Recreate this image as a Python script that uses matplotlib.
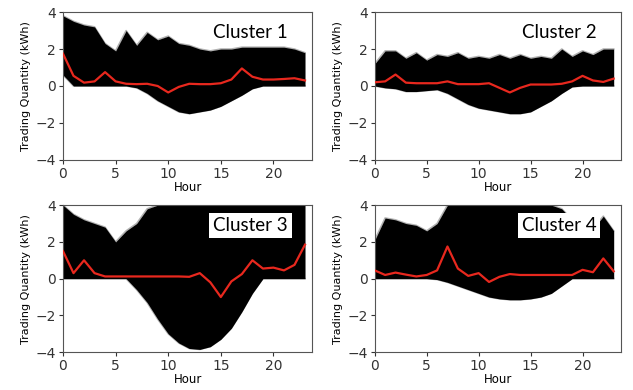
import matplotlib
matplotlib.use("Agg")
import matplotlib.pyplot as plt
import numpy as np

hours = list(range(24))

# centroid (red) profiles
centroid_1 = [1.75, 0.55, 0.18, 0.25, 0.75, 0.25, 0.12, 0.1, 0.12, 0.0, -0.35, -0.05,
              0.12, 0.1, 0.1, 0.15, 0.35, 0.95, 0.5, 0.35, 0.35, 0.38, 0.42, 0.3]
centroid_2 = [0.2, 0.25, 0.62, 0.18, 0.15, 0.15, 0.15, 0.25, 0.1, 0.1, 0.1, 0.15,
              -0.1, -0.35, -0.1, 0.08, 0.08, 0.08, 0.12, 0.25, 0.55, 0.3, 0.22, 0.4]
centroid_3 = [1.5, 0.3, 1.0, 0.3, 0.12, 0.12, 0.12, 0.12, 0.12, 0.12, 0.12, 0.12,
              0.1, 0.3, -0.2, -1.0, -0.15, 0.25, 1.0, 0.55, 0.6, 0.45, 0.75, 1.85]
centroid_4 = [0.45, 0.2, 0.33, 0.22, 0.12, 0.2, 0.45, 1.75, 0.55, 0.15, 0.3, -0.18,
              0.1, 0.25, 0.2, 0.2, 0.2, 0.2, 0.2, 0.2, 0.48, 0.35, 1.1, 0.4]

# envelope of the member profiles (black mass)
upper_1 = [3.8, 3.5, 3.3, 3.2, 2.3, 1.9, 3.0, 2.2, 2.9, 2.5, 2.7, 2.3,
           2.2, 2.0, 1.9, 2.0, 2.0, 2.1, 2.1, 2.1, 2.1, 2.1, 2.0, 1.8]
lower_1 = [0.6, 0.0, 0.0, 0.0, 0.0, 0.0, 0.0, -0.1, -0.4, -0.8, -1.1, -1.4,
           -1.5, -1.4, -1.3, -1.1, -0.8, -0.5, -0.15, 0.0, 0.0, 0.0, 0.0, 0.0]
upper_2 = [1.2, 1.9, 1.9, 1.5, 1.8, 1.4, 1.7, 1.6, 1.8, 1.5, 1.6, 1.5,
           1.7, 1.5, 1.7, 1.5, 1.6, 1.5, 2.0, 1.6, 1.9, 1.7, 2.0, 2.0]
lower_2 = [0.0, -0.1, -0.15, -0.3, -0.3, -0.25, -0.2, -0.4, -0.7, -1.0, -1.2, -1.3,
           -1.4, -1.5, -1.5, -1.4, -1.1, -0.8, -0.4, -0.05, 0.0, 0.0, 0.0, 0.0]
upper_3 = [4.0, 3.5, 3.2, 3.0, 2.8, 2.0, 2.6, 3.0, 3.8, 4.0, 4.0, 4.0,
           4.0, 4.0, 4.0, 4.0, 4.0, 4.0, 4.0, 4.0, 4.0, 4.0, 4.0, 4.0]
lower_3 = [0.0, 0.0, 0.0, 0.0, 0.0, 0.0, 0.0, -0.6, -1.3, -2.2, -3.0, -3.5,
           -3.8, -3.85, -3.7, -3.3, -2.7, -1.8, -0.8, 0.0, 0.0, 0.0, 0.0, 0.0]
upper_4 = [2.1, 3.3, 3.2, 3.0, 2.9, 2.6, 3.0, 4.0, 4.0, 4.0, 4.0, 4.0,
           4.0, 4.0, 4.0, 4.0, 4.0, 4.0, 3.8, 3.2, 2.8, 2.7, 3.4, 2.6]
lower_4 = [0.0, 0.0, 0.0, 0.0, 0.0, 0.0, -0.05, -0.2, -0.4, -0.6, -0.8, -1.0,
           -1.1, -1.15, -1.15, -1.1, -1.0, -0.8, -0.4, 0.0, 0.0, 0.0, 0.0, 0.0]

cluster_names = ["Cluster 1", "Cluster 2", "Cluster 3", "Cluster 4"]
centroids = [centroid_1, centroid_2, centroid_3, centroid_4]
uppers = [upper_1, upper_2, upper_3, upper_4]
lowers = [lower_1, lower_2, lower_3, lower_4]

fig = plt.figure(figsize=(6.33, 3.9), dpi=100)

# axes boxes in figure fractions
boxes = [[0.0995, 0.59, 0.394, 0.379],
         [0.592, 0.59, 0.389, 0.379],
         [0.0995, 0.097, 0.394, 0.377],
         [0.592, 0.097, 0.389, 0.377]]

for i in range(4):
    ax = fig.add_axes(boxes[i])
    ax.fill_between(hours, lowers[i], uppers[i], color="black", lw=0)
    ax.plot(hours, uppers[i], color="black", alpha=0.3, lw=1.2)
    ax.plot(hours, lowers[i], color="black", alpha=0.3, lw=1.2)
    ax.plot(hours, centroids[i], color="#e8281e", lw=1.6, zorder=5)

    ax.set_xlim(0, 23.7)
    ax.set_ylim(-4, 4)
    ax.set_xticks([0, 5, 10, 15, 20])
    ax.set_yticks([-4, -2, 0, 2, 4])
    ax.set_yticklabels(["\u22124", "\u22122", "0", "2", "4"])
    ax.tick_params(labelsize=10, length=3, pad=2, colors="#333333")
    for s in ax.spines.values():
        s.set_color("#555555")
        s.set_linewidth(0.8)
    ax.set_xlabel("Hour", fontsize=8.5, labelpad=0)
    ax.set_ylabel("Trading Quantity (kWh)", fontsize=8, labelpad=3)

    ax.text(0.9, 0.86, cluster_names[i], transform=ax.transAxes, ha="right",
            va="center", fontsize=13.5, family="Lato", zorder=10,
            bbox=dict(facecolor="white", edgecolor="none", pad=3))

fig.savefig("out.png", dpi=100)
